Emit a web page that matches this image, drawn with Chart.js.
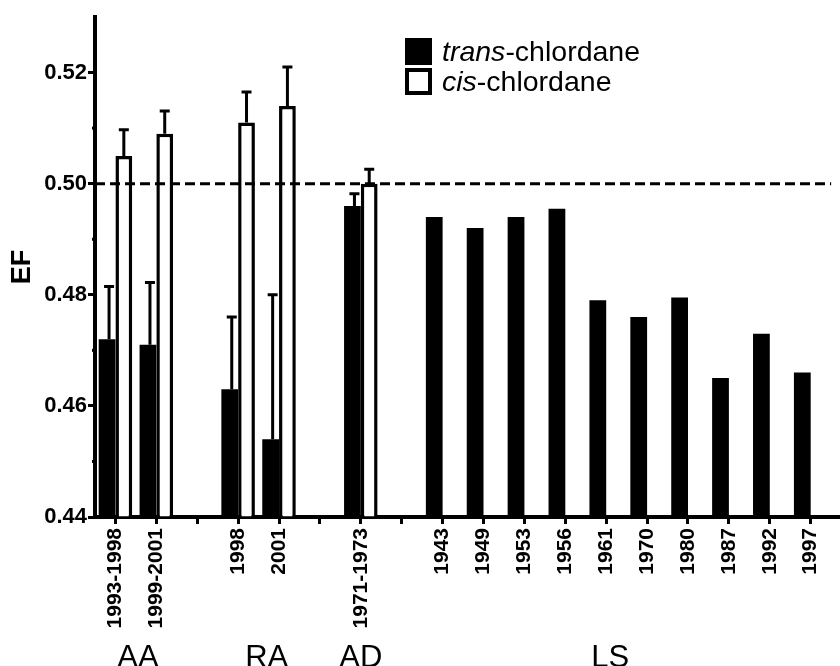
<!DOCTYPE html>
<html><head><meta charset="utf-8">
<script src="https://cdn.jsdelivr.net/npm/chart.js@4"></script>
<style>
html,body{margin:0;padding:0;background:#fff;}
#wrap{position:relative;width:840px;height:666px;overflow:hidden;}
#legend{position:absolute;left:405px;top:36px;font-family:"Liberation Sans",Arial,sans-serif;font-size:28.5px;color:#000;line-height:1;}
.row{display:flex;align-items:center;height:30px;}
.sw{width:27px;height:27px;box-sizing:border-box;margin-right:10px;}
.fill{background:#000;}
.open{background:#fff;border:4px solid #000;}
</style></head><body>
<div id="wrap"><canvas id="c" width="840" height="666"></canvas>
<div id="legend">
<div class="row"><div class="sw fill"></div><span><i>trans</i>-chlordane</span></div>
<div class="row"><div class="sw open"></div><span><i>cis</i>-chlordane</span></div>
</div></div>
<script>
const categories = ['1993-1998','1999-2001','','1998','2001','','1971-1973','','1943','1949','1953','1956','1961','1970','1980','1987','1992','1997'];
const transValues = [0.472,0.471,null,0.463,0.454,null,0.496,null,0.494,0.492,0.494,0.4955,0.479,0.476,0.4795,0.465,0.473,0.466];
const transErrors = [0.0095,0.0112,null,0.013,0.026,null,0.0022,null,null,null,null,null,null,null,null,null,null,null];
const cisValues = [0.505,0.509,null,0.511,0.514,null,0.500,null,null,null,null,null,null,null,null,null,null,null];
const cisErrors = [0.0047,0.0041,null,0.0055,0.007,null,0.0026,null,null,null,null,null,null,null,null,null,null,null];
const yTicks = [0.44,0.46,0.48,0.50,0.52];
const yMinorTicks = [0.45,0.47,0.49,0.51];
const groupLabels = ['AA','RA','AD','LS'];
const referenceLine = 0.50;
const yMin = 0.44, yMax = 0.53;

const FONT = '"Liberation Sans", Arial, sans-serif';
const groupPos = [0.55, 3.7, 6.0, 12.1];

const extras = {
  id: 'extras',
  afterDatasetsDraw(chart) {
    const ctx = chart.ctx, y = chart.scales.y, area = chart.chartArea;
    ctx.save();
    ctx.strokeStyle = '#000'; ctx.lineWidth = 3; ctx.setLineDash([10,5]);
    const ry = y.getPixelForValue(referenceLine);
    ctx.beginPath(); ctx.moveTo(area.left, ry); ctx.lineTo(area.right, ry); ctx.stroke();
    ctx.restore();
    const errs = [transErrors, cisErrors];
    const vals = [transValues, cisValues];
    ctx.save();
    ctx.strokeStyle = '#000'; ctx.lineWidth = 3; ctx.lineCap = 'butt';
    [0,1].forEach(di => {
      const meta = chart.getDatasetMeta(di);
      meta.data.forEach((bar, j) => {
        const v = vals[di][j], e = errs[di][j];
        if (v == null || e == null) return;
        const x = bar.x + (di === 0 ? 2 : 0), y0 = y.getPixelForValue(v), y1 = y.getPixelForValue(v + e);
        ctx.beginPath(); ctx.moveTo(x, y0); ctx.lineTo(x, y1);
        ctx.moveTo(x - 5, y1); ctx.lineTo(x + 5, y1); ctx.stroke();
      });
    });
    ctx.restore();
  },
  afterDraw(chart) {
    const ctx = chart.ctx, y = chart.scales.y, x = chart.scales.x, area = chart.chartArea;
    ctx.save();
    ctx.strokeStyle = '#000'; ctx.lineWidth = 3;
    yMinorTicks.forEach(v => {
      const py = y.getPixelForValue(v);
      ctx.beginPath(); ctx.moveTo(area.left - 3, py); ctx.lineTo(area.left, py); ctx.stroke();
    });
    ctx.lineWidth = 4;
    ctx.beginPath(); ctx.moveTo(area.right - 2, area.bottom); ctx.lineTo(chart.width, area.bottom); ctx.stroke();
    ctx.fillStyle = '#000'; ctx.font = '31px ' + FONT; ctx.textAlign = 'center'; ctx.textBaseline = 'alphabetic';
    groupLabels.forEach((g, i) => {
      ctx.fillText(g, x.getPixelForValue(groupPos[i]), 667);
    });
    ctx.restore();
  }
};

new Chart(document.getElementById('c'), {
  type: 'bar',
  data: {
    labels: categories,
    datasets: [
      { label: 'trans-chlordane', data: transValues, backgroundColor: '#000', borderWidth: 0, base: yMin },
      { label: 'cis-chlordane', data: cisValues, backgroundColor: '#fff', borderColor: '#000', borderWidth: 3.5, base: yMin }
    ]
  },
  options: {
    responsive: false, animation: false,
    layout: { padding: { top: 17, right: 4, left: 0, bottom: 0 } },
    datasets: { bar: { categoryPercentage: 0.82, barPercentage: 1.0 } },
    plugins: { legend: { display: false }, tooltip: { enabled: false } },
    scales: {
      x: {
        offset: true,
        grid: { display: true, drawOnChartArea: false, drawTicks: true, tickLength: 7, tickWidth: 3, tickColor: '#000', offset: false },
        border: { display: true, width: 4, color: '#000' },
        ticks: { autoSkip: false, minRotation: 90, maxRotation: 90, padding: 4, color: '#000', font: { family: FONT, size: 21, weight: 'bold' } },
        afterFit(s) { s.height = 149; }
      },
      y: {
        min: yMin, max: yMax,
        afterBuildTicks(s) { s.ticks = yTicks.map(v => ({ value: v })); },
        grid: { display: true, drawOnChartArea: false, drawTicks: true, tickLength: 7, tickWidth: 3, tickColor: '#000' },
        border: { display: true, width: 4, color: '#000' },
        ticks: { padding: 1, color: '#000', font: { family: FONT, size: 22, weight: 'bold' }, callback: v => Number(v).toFixed(2) },
        title: { display: true, text: 'EF', color: '#000', font: { family: FONT, size: 27, weight: 'bold', lineHeight: 1.2 }, padding: { top: 6, bottom: 0 } },
        afterFit(s) { s.width = 95; }
      }
    }
  },
  plugins: [extras]
});
</script>
</body></html>
